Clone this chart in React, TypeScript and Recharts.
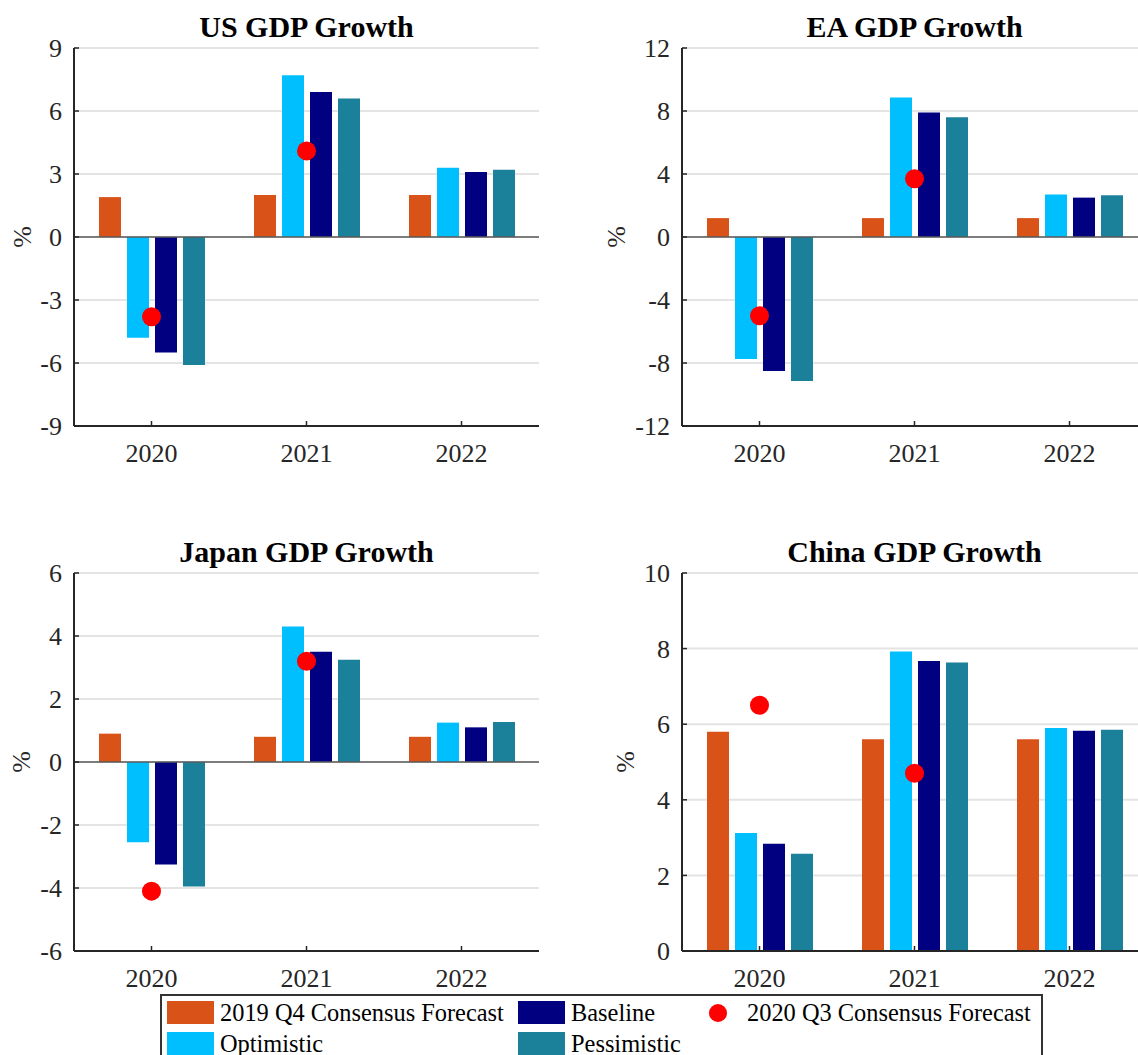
import React from "react";
import {
  Bar,
  CartesianGrid,
  ComposedChart,
  Line,
  ReferenceLine,
  XAxis,
  YAxis,
} from "recharts";

const FONT = "Liberation Serif, Times New Roman, serif";
const INK = "#262626";

const years = ["2020", "2021", "2022"];

// US
const usConsensus2019 = [1.9, 2.0, 2.0];
const usOptimistic = [-4.8, 7.7, 3.3];
const usBaseline = [-5.5, 6.9, 3.1];
const usPessimistic = [-6.1, 6.6, 3.2];
const usConsensus2020 = [-3.8, 4.1, null];
const usTicks = [-9, -6, -3, 0, 3, 6, 9];

// Euro area
const eaConsensus2019 = [1.2, 1.2, 1.2];
const eaOptimistic = [-7.75, 8.85, 2.7];
const eaBaseline = [-8.5, 7.9, 2.5];
const eaPessimistic = [-9.15, 7.6, 2.65];
const eaConsensus2020 = [-5.0, 3.7, null];
const eaTicks = [-12, -8, -4, 0, 4, 8, 12];

// Japan
const jpConsensus2019 = [0.9, 0.8, 0.8];
const jpOptimistic = [-2.55, 4.3, 1.25];
const jpBaseline = [-3.25, 3.5, 1.1];
const jpPessimistic = [-3.95, 3.25, 1.27];
const jpConsensus2020 = [-4.1, 3.2, null];
const jpTicks = [-6, -4, -2, 0, 2, 4, 6];

// China
const cnConsensus2019 = [5.8, 5.6, 5.6];
const cnOptimistic = [3.12, 7.92, 5.9];
const cnBaseline = [2.84, 7.67, 5.83];
const cnPessimistic = [2.57, 7.63, 5.85];
const cnConsensus2020 = [6.5, 4.7, null];
const cnTicks = [0, 2, 4, 6, 8, 10];

const barSeries = [
  { key: "q4", name: "2019 Q4 Consensus Forecast", color: "#D95319" },
  { key: "opt", name: "Optimistic", color: "#00BFFF" },
  { key: "base", name: "Baseline", color: "#000080" },
  { key: "pess", name: "Pessimistic", color: "#1B8099" },
];
const dotSeries = { key: "q3", name: "2020 Q3 Consensus Forecast", color: "#FF0000" };

type Vals = (number | null)[];

function buildRows(q4: Vals, opt: Vals, base: Vals, pess: Vals, q3: Vals) {
  return years.map((year, i) => ({
    year,
    q4: q4[i],
    opt: opt[i],
    base: base[i],
    pess: pess[i],
    q3: q3[i],
  }));
}

interface PanelProps {
  title: string;
  left: number;
  top: number;
  axisWidth: number;
  ticks: number[];
  rows: any[];
  labelX: number;
}

function Panel({ title, left, top, axisWidth, ticks, rows, labelX }: PanelProps) {
  const tickStyle = { fill: INK, fontSize: 26, fontFamily: FONT, style: { fontFamily: FONT } };
  const width = axisWidth + 465 + 21;
  return (
    <div style={{ position: "absolute", left, top, width, height: 500 }}>
      <div
        style={{
          position: "absolute",
          left: axisWidth,
          width: 465,
          top: 12,
          textAlign: "center",
          fontFamily: FONT,
          fontWeight: "bold",
          fontSize: 30,
          lineHeight: "30px",
          color: "#000",
        }}
      >
        {title}
      </div>
      <ComposedChart
        width={width}
        height={500}
        data={rows}
        margin={{ top: 48, right: 21, bottom: 24, left: 0 }}
        barGap={6}
        barCategoryGap={24}
        style={{ fontFamily: FONT }}
      >
        <CartesianGrid vertical={false} stroke="#E4E4E4" strokeWidth={2} />
        <XAxis
          dataKey="year"
          height={50}
          tick={tickStyle}
          tickSize={-5}
          tickMargin={23}
          axisLine={{ stroke: INK, strokeWidth: 2 }}
          tickLine={{ stroke: INK, strokeWidth: 1.5 }}
        />
        <YAxis
          width={axisWidth}
          domain={[ticks[0], ticks[ticks.length - 1]]}
          ticks={ticks}
          interval={0}
          tick={tickStyle}
          tickSize={-5}
          tickMargin={17}
          axisLine={{ stroke: INK, strokeWidth: 2 }}
          tickLine={{ stroke: INK, strokeWidth: 1.5 }}
          label={{
            content: (props: any) => {
              const vb = props.viewBox || {};
              const cy = (vb.y ?? 48) + (vb.height ?? 378) / 2;
              return (
                <text
                  x={labelX}
                  y={cy}
                  transform={`rotate(-90 ${labelX} ${cy})`}
                  textAnchor="middle"
                  dominantBaseline="central"
                  fill={INK}
                  fontSize={26}
                  style={{ fontFamily: FONT }}
                >
                  %
                </text>
              );
            },
          }}
        />
        <ReferenceLine y={0} stroke="#5A5A5A" strokeWidth={1.5} />
        {barSeries.map((s) => (
          <Bar
            key={s.key}
            dataKey={s.key}
            name={s.name}
            fill={s.color}
            barSize={22}
            isAnimationActive={false}
          />
        ))}
        <Line
          dataKey={dotSeries.key}
          name={dotSeries.name}
          stroke="none"
          strokeWidth={0}
          dot={{ r: 9.5, fill: dotSeries.color, stroke: "none", strokeWidth: 0 }}
          activeDot={false}
          isAnimationActive={false}
        />
      </ComposedChart>
    </div>
  );
}

function LegendBox() {
  const cols = [167, 518];
  const rowTops = [1001, 1032];
  const textStyle: React.CSSProperties = {
    position: "absolute",
    fontFamily: FONT,
    fontSize: 24.4,
    lineHeight: "23px",
    color: "#000",
    whiteSpace: "nowrap",
  };
  // bar entries fill the first two columns top to bottom, the dot entry sits in column three
  return (
    <>
      <div
        style={{
          position: "absolute",
          left: 160,
          top: 994,
          width: 883,
          height: 90,
          border: "2px solid #333",
          boxSizing: "border-box",
          background: "#fff",
        }}
      />
      {barSeries.map((s, i) => {
        const x = cols[Math.floor(i / 2)];
        const y = rowTops[i % 2];
        return (
          <React.Fragment key={s.key}>
            <div
              style={{
                position: "absolute",
                left: x,
                top: y,
                width: 47,
                height: 23,
                background: s.color,
              }}
            />
            <div style={{ ...textStyle, left: x + 53, top: y }}>{s.name}</div>
          </React.Fragment>
        );
      })}
      <div
        style={{
          position: "absolute",
          left: 709,
          top: rowTops[0] + 2.5,
          width: 18,
          height: 18,
          borderRadius: "50%",
          background: dotSeries.color,
        }}
      />
      <div style={{ ...textStyle, left: 747, top: rowTops[0] }}>{dotSeries.name}</div>
    </>
  );
}

export default function App() {
  return (
    <div
      style={{
        position: "absolute",
        left: 0,
        top: 0,
        width: 1138,
        height: 1055,
        overflow: "hidden",
        background: "#fff",
        fontFamily: FONT,
      }}
    >
      <Panel
        title="US GDP Growth"
        left={0}
        top={0}
        axisWidth={74}
        ticks={usTicks}
        rows={buildRows(usConsensus2019, usOptimistic, usBaseline, usPessimistic, usConsensus2020)}
        labelX={22}
      />
      <Panel
        title="EA GDP Growth"
        left={570}
        top={0}
        axisWidth={112}
        ticks={eaTicks}
        rows={buildRows(eaConsensus2019, eaOptimistic, eaBaseline, eaPessimistic, eaConsensus2020)}
        labelX={46}
      />
      <Panel
        title="Japan GDP Growth"
        left={0}
        top={525}
        axisWidth={74}
        ticks={jpTicks}
        rows={buildRows(jpConsensus2019, jpOptimistic, jpBaseline, jpPessimistic, jpConsensus2020)}
        labelX={21}
      />
      <Panel
        title="China GDP Growth"
        left={570}
        top={525}
        axisWidth={112}
        ticks={cnTicks}
        rows={buildRows(cnConsensus2019, cnOptimistic, cnBaseline, cnPessimistic, cnConsensus2020)}
        labelX={55}
      />
      <LegendBox />
    </div>
  );
}
